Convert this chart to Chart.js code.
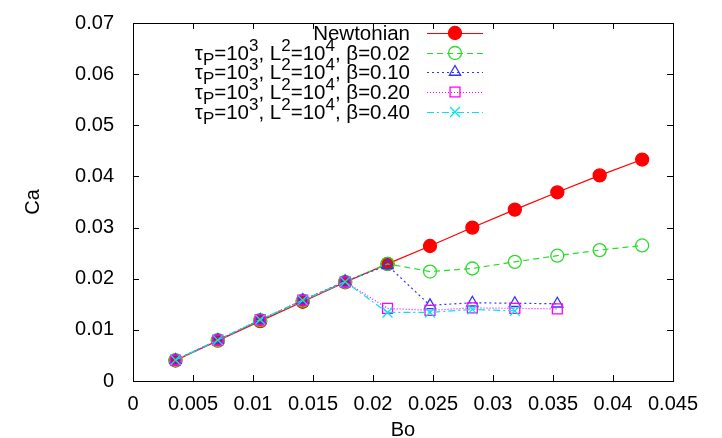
<!DOCTYPE html>
<html>
<head>
<meta charset="utf-8">
<script src="https://cdn.jsdelivr.net/npm/chart.js@4/dist/chart.umd.min.js"></script>
<style>
  html, body { margin: 0; padding: 0; background: #fff; }
  canvas { display: block; }
</style>
</head>
<body>
<canvas id="ca" width="722" height="438"></canvas>
<script>
// Bo values (x), same spacing for every run
const bo = [0.00354, 0.00707, 0.0106, 0.01414, 0.01768, 0.02121, 0.02475, 0.02828, 0.03182, 0.03536, 0.03889, 0.04243];

// Ca values (y)
const caNewtonian = [0.0040, 0.0079, 0.0117, 0.0155, 0.0193, 0.0229, 0.0264, 0.0300, 0.0335, 0.0369, 0.0402, 0.0433];
const caBeta002 = [0.0041, 0.0080, 0.0119, 0.0157, 0.0194, 0.0229, 0.0214, 0.0220, 0.0233, 0.0245, 0.0256, 0.0265];
const caBeta010 = [0.0041, 0.0080, 0.0119, 0.0158, 0.0195, 0.0226, 0.0148, 0.0153, 0.0152, 0.0151];
const caBeta020 = [0.0041, 0.0080, 0.0120, 0.0158, 0.0194, 0.0142, 0.0138, 0.0143, 0.0142, 0.0141];
const caBeta040 = [0.0041, 0.0080, 0.0120, 0.0158, 0.0194, 0.0134, 0.0134, 0.0140, 0.0137];

// legend labels: _x = subscript, ^x = superscript
const seriesLabels = [
    'Newtonian',
    'τ_P=10^3, L^2=10^4, β=0.02',
    'τ_P=10^3, L^2=10^4, β=0.10',
    'τ_P=10^3, L^2=10^4, β=0.20',
    'τ_P=10^3, L^2=10^4, β=0.40'
];

const xTicks = [0, 0.005, 0.01, 0.015, 0.02, 0.025, 0.03, 0.035, 0.04, 0.045];
const xTickLabels = ['0', '0.005', '0.01', '0.015', '0.02', '0.025', '0.03', '0.035', '0.04', '0.045'];
const yTicks = [0, 0.01, 0.02, 0.03, 0.04, 0.05, 0.06, 0.07];
const yTickLabels = ['0', '0.01', '0.02', '0.03', '0.04', '0.05', '0.06', '0.07'];

const FONT = '"Liberation Sans", Arial, sans-serif';

function pts(ys){
    return ys.map(function(y, i){ return {x: bo[i], y: y}; });
}

let styles = [
    {color: 'rgb(255,0,0)', fill: 'rgb(255,0,0)', dash: [], pointStyle: 'circle', radius: 6.5, order: 5},
    {color: 'rgb(40,220,40)', fill: 'rgba(0,0,0,0)', dash: [6, 4], pointStyle: 'circle', radius: 6.5, order: 4},
    {color: 'rgb(50,50,255)', fill: 'rgba(0,0,0,0)', dash: [2, 3], pointStyle: 'triangle', radius: 6.5, order: 3},
    {color: 'rgb(255,0,255)', fill: 'rgba(0,0,0,0)', dash: [1, 2], pointStyle: 'rect', radius: 7, order: 2},
    {color: 'rgb(0,230,230)', fill: 'rgba(0,0,0,0)', dash: [7, 3, 2, 3], pointStyle: 'crossRot', radius: 7, order: 1}
];

let seriesData = [caNewtonian, caBeta002, caBeta010, caBeta020, caBeta040];

let datasets = seriesData.map(function(ys, i){
    let s = styles[i];
    return {
        label: seriesLabels[i],
        data: pts(ys),
        showLine: true,
        borderColor: s.color,
        backgroundColor: s.fill,
        borderWidth: 1.2,
        borderDash: s.dash,
        pointStyle: s.pointStyle,
        pointRadius: s.radius,
        pointBorderColor: s.color,
        pointBackgroundColor: s.fill,
        pointBorderWidth: 1.3,
        order: s.order
    };
});

// parse "τ_P=10^3" into runs with baseline shifts
function parseRich(str){
    let out = [];
    let cur = '';
    for (let i = 0; i < str.length; i++){
        let c = str[i];
        if ((c === '_' || c === '^') && i + 1 < str.length){
            if (cur) out.push({t: cur, s: 0});
            cur = '';
            out.push({t: str[i + 1], s: c === '^' ? 1 : -1});
            i++;
        } else {
            cur += c;
        }
    }
    if (cur) out.push({t: cur, s: 0});
    return out;
}

function drawMarker(ctx, style, x, y, r){
    ctx.save();
    ctx.setLineDash([]);
    ctx.strokeStyle = style.color;
    ctx.fillStyle = style.fill;
    ctx.lineWidth = 1.3;
    ctx.beginPath();
    if (style.pointStyle === 'circle'){
        ctx.arc(x, y, r, 0, Math.PI * 2);
        ctx.fill();
        ctx.stroke();
    } else if (style.pointStyle === 'triangle'){
        ctx.moveTo(x, y - r);
        ctx.lineTo(x + r * 0.866, y + r * 0.5);
        ctx.lineTo(x - r * 0.866, y + r * 0.5);
        ctx.closePath();
        ctx.stroke();
    } else if (style.pointStyle === 'rect'){
        let a = r * 0.707;
        ctx.rect(x - a, y - a, a * 2, a * 2);
        ctx.stroke();
    } else {
        let a = r * 0.707;
        ctx.moveTo(x - a, y - a); ctx.lineTo(x + a, y + a);
        ctx.moveTo(x + a, y - a); ctx.lineTo(x - a, y + a);
        ctx.stroke();
    }
    ctx.restore();
}

const framePlugin = {
    id: 'frame',
    beforeDatasetsDraw: function(chart){
        const ctx = chart.ctx;
        const a = chart.chartArea;
        const xs = chart.scales.x, ys = chart.scales.y;
        ctx.save();
        ctx.strokeStyle = '#000';
        ctx.lineWidth = 1;
        ctx.strokeRect(Math.round(a.left) + 0.5, Math.round(a.top) + 0.5, Math.round(a.right - a.left), Math.round(a.bottom - a.top));
        ctx.beginPath();
        const tl = 6;
        xTicks.forEach(function(v){
            let px = Math.round(xs.getPixelForValue(v)) + 0.5;
            ctx.moveTo(px, a.bottom); ctx.lineTo(px, a.bottom - tl);
            ctx.moveTo(px, a.top); ctx.lineTo(px, a.top + tl);
        });
        yTicks.forEach(function(v){
            let py = Math.round(ys.getPixelForValue(v)) + 0.5;
            ctx.moveTo(a.left, py); ctx.lineTo(a.left + tl, py);
            ctx.moveTo(a.right, py); ctx.lineTo(a.right - tl, py);
        });
        ctx.stroke();

        // axis titles
        ctx.fillStyle = '#000';
        ctx.font = '20px ' + FONT;
        ctx.textAlign = 'center';
        ctx.textBaseline = 'middle';
        ctx.fillText('Bo', (a.left + a.right) / 2, 430);
        ctx.translate(33, (a.top + a.bottom) / 2);
        ctx.rotate(-Math.PI / 2);
        ctx.fillText('Ca', 0, 0);
        ctx.restore();
    },
    afterDraw: function(chart){
        // gnuplot style key, top right
        const ctx = chart.ctx;
        ctx.save();
        const textRight = 410, lineL = 427, lineR = 483, markX = 455;
        const rowY = [33, 53, 72, 92, 112];
        seriesLabels.forEach(function(lbl, i){
            let y = rowY[i];
            let runs = parseRich(lbl);
            let big = '20.5px ' + FONT, small = '17px ' + FONT;
            let w = 0;
            runs.forEach(function(r){
                ctx.font = r.s ? small : big;
                r.w = ctx.measureText(r.t).width;
                w += r.w;
            });
            let x = textRight - w;
            ctx.fillStyle = '#000';
            ctx.textAlign = 'left';
            ctx.textBaseline = 'alphabetic';
            runs.forEach(function(r){
                ctx.font = r.s ? small : big;
                let dy = r.s === 1 ? -9 : (r.s === -1 ? 5 : 0);
                ctx.fillText(r.t, x, y + 7 + dy);
                x += r.w;
            });
            let s = styles[i];
            ctx.strokeStyle = s.color;
            ctx.lineWidth = 1.2;
            ctx.setLineDash(s.dash);
            ctx.beginPath();
            ctx.moveTo(lineL, y + 0.5);
            ctx.lineTo(lineR, y + 0.5);
            ctx.stroke();
            drawMarker(ctx, s, markX, y, s.radius);
        });
        ctx.restore();
    }
};

new Chart(document.getElementById('ca').getContext('2d'), {
    type: 'scatter',
    data: {datasets: datasets},
    plugins: [framePlugin],
    options: {
        responsive: false,
        animation: false,
        layout: {padding: {left: 0, top: 18, right: 49, bottom: 0}},
        plugins: {
            legend: {display: false},
            tooltip: {enabled: false},
            title: {display: false}
        },
        scales: {
            x: {
                type: 'linear',
                min: 0,
                max: 0.045,
                afterBuildTicks: function(s){ s.ticks = xTicks.map(function(v){ return {value: v}; }); },
                afterFit: function(s){ s.height = 57; },
                grid: {display: false},
                border: {display: false},
                ticks: {
                    color: '#000',
                    font: {family: FONT, size: 20},
                    padding: 3,
                    maxRotation: 0,
                    autoSkip: false,
                    callback: function(v, i){ return xTickLabels[i]; }
                }
            },
            y: {
                type: 'linear',
                min: 0,
                max: 0.07,
                afterBuildTicks: function(s){ s.ticks = yTicks.map(function(v){ return {value: v}; }); },
                afterFit: function(s){ s.width = 133; },
                grid: {display: false},
                border: {display: false},
                ticks: {
                    color: '#000',
                    font: {family: FONT, size: 20},
                    padding: 11,
                    autoSkip: false,
                    callback: function(v, i){ return yTickLabels[i]; }
                }
            }
        }
    }
});
</script>
</body>
</html>
